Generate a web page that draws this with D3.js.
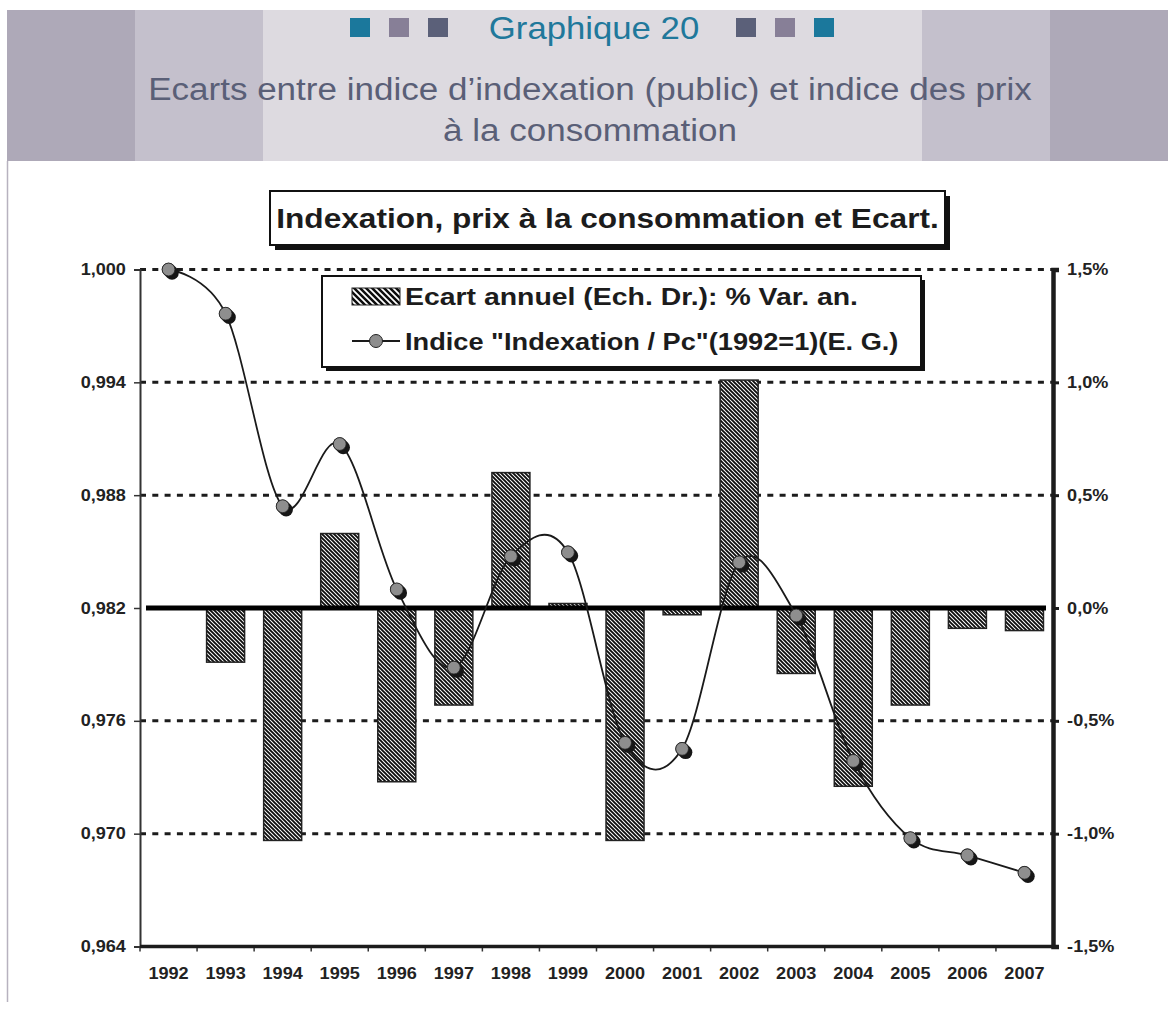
<!DOCTYPE html>
<html>
<head>
<meta charset="utf-8">
<script src="https://cdn.jsdelivr.net/npm/d3@7"></script>
<style>
  body { margin: 0; background: #fff; }
  svg { display: block; }
  text { font-family: "Liberation Sans", Arial, Helvetica, sans-serif; }
</style>
</head>
<body>
<script>
// data
const years = ['1992', '1993', '1994', '1995', '1996', '1997', '1998', '1999',
  '2000', '2001', '2002', '2003', '2004', '2005', '2006', '2007'];
// Ecart annuel, % (right scale)
const ecart = [0, -0.24, -1.03, 0.33, -0.77, -0.43, 0.60, 0.02,
  -1.03, -0.03, 1.01, -0.29, -0.79, -0.43, -0.09, -0.10];
// Indice Indexation / Pc, 1992 = 1 (left scale)
const indice = [1.0000, 0.99765, 0.98741, 0.99072, 0.98299, 0.97883, 0.98475, 0.98496,
  0.97483, 0.97451, 0.98443, 0.98160, 0.97387, 0.96976, 0.96885, 0.96792];

const leftTicks = [0.964, 0.970, 0.976, 0.982, 0.988, 0.994, 1.000];
const leftLabels = ['0,964', '0,970', '0,976', '0,982', '0,988', '0,994', '1,000'];
const rightTicks = [-1.5, -1.0, -0.5, 0, 0.5, 1.0, 1.5];
const rightLabels = ['-1,5%', '-1,0%', '-0,5%', '0,0%', '0,5%', '1,0%', '1,5%'];

const W = 1168, H = 1015;
const SX = 1.13; // the source text is a bit stretched sideways
const ink = '#1c1c1c';

const svg = d3.select('body').append('svg')
  .attr('width', W)
  .attr('height', H);

function label(sel, x, y, str, size, weight, fill, anchor, sx) {
  return sel.append('text')
    .attr('transform', `translate(${x},${y}) scale(${sx || SX},1)`)
    .attr('text-anchor', anchor || 'middle')
    .style('font-size', size + 'px')
    .style('font-weight', weight || 'normal')
    .attr('fill', fill || ink)
    .text(str);
}

// ---- header band
svg.append('rect').attr('x', 7).attr('y', 10).attr('width', W - 7).attr('height', 151).attr('fill', '#aea9b8');
svg.append('rect').attr('x', 135).attr('y', 10).attr('width', 915).attr('height', 151).attr('fill', '#c4c0cc');
svg.append('rect').attr('x', 263).attr('y', 10).attr('width', 659).attr('height', 151).attr('fill', '#dddae0');
svg.append('line')
  .attr('x1', 7.5).attr('x2', 7.5).attr('y1', 161).attr('y2', 1002)
  .attr('stroke', '#b7b2bf').attr('stroke-width', 1.5);

const sqCols = ['#1b789c', '#877f97', '#5b6079'];
[350, 389, 428].forEach((x, i) => {
  svg.append('rect').attr('x', x).attr('y', 18).attr('width', 20).attr('height', 19).attr('fill', sqCols[i]);
});
[736, 775, 814].forEach((x, i) => {
  svg.append('rect').attr('x', x).attr('y', 18).attr('width', 20).attr('height', 19).attr('fill', sqCols[2 - i]);
});
label(svg, 594, 39, 'Graphique 20', 31, 'normal', '#20789b', 'middle', 1.12);
label(svg, 590, 100, 'Ecarts entre indice d\u2019indexation (public) et indice des prix', 31, 'normal', '#5a5f77');
label(svg, 590, 141, '\u00e0 la consommation', 31, 'normal', '#5a5f77');

// ---- patterns: "\" hatch, black on white
const defs = svg.append('defs');
function hatch(id, p, sw) {
  const pat = defs.append('pattern')
    .attr('id', id)
    .attr('patternUnits', 'userSpaceOnUse')
    .attr('width', p).attr('height', p);
  pat.append('rect').attr('width', p).attr('height', p).attr('fill', '#fff');
  pat.append('path')
    .attr('d', `M-1,-1L${p + 1},${p + 1}M${-1 - p / 2},${p / 2 - 1}L${p / 2 + 1},${p * 1.5 + 1}M${p / 2 - 1},${-1 - p / 2}L${p * 1.5 + 1},${p / 2 + 1}`)
    .attr('stroke', '#0d0d0d').attr('stroke-width', sw);
}
hatch('hatch', 4, 1.9);
hatch('hatchL', 6, 2.5);

// ---- scales
const pLeft = 140, pRight = 1053, pTop = 269.5, pBottom = 946.5;
const x = d3.scaleBand().domain(years).range([pLeft, pRight]).padding(0);
const bw = x.bandwidth();
const yL = d3.scaleLinear().domain([0.964, 1.000]).range([pBottom, pTop]);
const yR = d3.scaleLinear().domain([-1.5, 1.5]).range([pBottom, pTop]);

// ---- chart title
svg.append('rect').attr('x', 275).attr('y', 196).attr('width', 675).attr('height', 54).attr('fill', '#111');
svg.append('rect').attr('x', 270).attr('y', 191).attr('width', 675).attr('height', 54)
  .attr('fill', '#fff').attr('stroke', '#111').attr('stroke-width', 2);
label(svg, 607.5, 228, 'Indexation, prix \u00e0 la consommation et Ecart.', 28, 'bold');

// ---- grid
svg.append('g').selectAll('line')
  .data(leftTicks.filter(d => d !== 0.982 && d !== 0.964))
  .enter().append('line')
  .attr('x1', pLeft).attr('x2', pRight)
  .attr('y1', d => yL(d)).attr('y2', d => yL(d))
  .attr('stroke', ink).attr('stroke-width', 3)
  .attr('stroke-dasharray', '6 6.3');

// ---- bars
svg.append('g').selectAll('rect')
  .data(years.map((y, i) => ({ y: y, v: ecart[i] })).filter(d => d.v !== 0))
  .enter().append('rect')
  .attr('x', d => x(d.y) + bw / 2 - 19)
  .attr('width', 38)
  .attr('y', d => Math.min(yR(0), yR(d.v)))
  .attr('height', d => Math.abs(yR(d.v) - yR(0)))
  .attr('fill', 'url(#hatch)')
  .attr('stroke', '#222').attr('stroke-width', 1.5);

// zero line
svg.append('line')
  .attr('x1', pLeft + 6).attr('x2', pRight - 7)
  .attr('y1', yR(0)).attr('y2', yR(0))
  .attr('stroke', '#000').attr('stroke-width', 5);

// ---- axes
const tickFont = sel => sel
  .attr('transform', `scale(${SX},1)`)
  .attr('fill', '#222')
  .style('font-size', '16px').style('font-weight', 'bold')
  .style('font-family', '"Liberation Sans", Arial, sans-serif');

const axL = svg.append('g')
  .attr('transform', `translate(${pLeft},0)`)
  .call(d3.axisLeft(yL).tickValues(leftTicks).tickFormat((d, i) => leftLabels[i]).tickSize(6).tickPadding(6.5));
axL.select('.domain').attr('stroke', '#333').attr('stroke-width', 2);
axL.selectAll('.tick line').attr('stroke', '#333').attr('stroke-width', 1.5);
axL.selectAll('.tick text').call(tickFont);

const axR = svg.append('g')
  .attr('transform', `translate(${pRight},0)`)
  .call(d3.axisRight(yR).tickValues(rightTicks).tickFormat((d, i) => rightLabels[i]).tickSize(6).tickPadding(6.5));
axR.select('.domain').attr('stroke', ink).attr('stroke-width', 4.5);
axR.selectAll('.tick line').attr('stroke', ink).attr('stroke-width', 3);
axR.selectAll('.tick text').call(tickFont);

// bottom axis: ticks on category edges, labels at centres
svg.append('g').selectAll('line')
  .data(years)
  .enter().append('line')
  .attr('x1', d => x(d)).attr('x2', d => x(d))
  .attr('y1', pBottom).attr('y2', pBottom + 5)
  .attr('stroke', '#333').attr('stroke-width', 1.5);
const axB = svg.append('g')
  .attr('transform', `translate(0,${pBottom})`)
  .call(d3.axisBottom(x).tickSize(0).tickPadding(21));
axB.select('.domain').remove();
axB.selectAll('.tick text').call(tickFont);
svg.append('line')
  .attr('x1', pLeft).attr('x2', pRight)
  .attr('y1', pBottom).attr('y2', pBottom)
  .attr('stroke', ink).attr('stroke-width', 3.5);

// ---- index line
const pts = years.map((y, i) => ({ x: x(y) + bw / 2, y: yL(indice[i]) }));
svg.append('path')
  .datum(pts)
  .attr('d', d3.line().x(d => d.x).y(d => d.y).curve(d3.curveCardinal.tension(0)))
  .attr('fill', 'none')
  .attr('stroke', '#1a1a1a')
  .attr('stroke-width', 1.8);

const mk = svg.append('g').selectAll('g')
  .data(pts).enter().append('g');
mk.append('line')
  .attr('x1', d => d.x).attr('y1', d => d.y)
  .attr('x2', d => d.x + 3.5).attr('y2', d => d.y + 3.5)
  .attr('stroke', '#161616').attr('stroke-width', 13.5)
  .attr('stroke-linecap', 'round');
mk.append('circle')
  .attr('cx', d => d.x).attr('cy', d => d.y).attr('r', 6.4)
  .attr('fill', '#8e8e8e')
  .attr('stroke', '#222').attr('stroke-width', 0.8);

// ---- legend
const lg = svg.append('g');
lg.append('rect').attr('x', 326).attr('y', 280).attr('width', 599).attr('height', 91).attr('fill', '#111');
lg.append('rect').attr('x', 322).attr('y', 276).attr('width', 599).attr('height', 91)
  .attr('fill', '#fff').attr('stroke', '#111').attr('stroke-width', 2);
lg.append('rect').attr('x', 352).attr('y', 288).attr('width', 48).attr('height', 17)
  .attr('fill', 'url(#hatchL)').attr('stroke', '#222').attr('stroke-width', 1);
label(lg, 405, 305, 'Ecart annuel (Ech. Dr.): % Var. an.', 24.5, 'bold', ink, 'start', 1.16);
lg.append('line').attr('x1', 352).attr('x2', 400).attr('y1', 341).attr('y2', 341)
  .attr('stroke', '#1a1a1a').attr('stroke-width', 1.8);
lg.append('circle').attr('cx', 376).attr('cy', 341).attr('r', 6.5)
  .attr('fill', '#8e8e8e').attr('stroke', '#222').attr('stroke-width', 1);
label(lg, 405, 350, 'Indice "Indexation / Pc"(1992=1)(E. G.)', 24.5, 'bold', ink, 'start', 1.11);
</script>
</body>
</html>
